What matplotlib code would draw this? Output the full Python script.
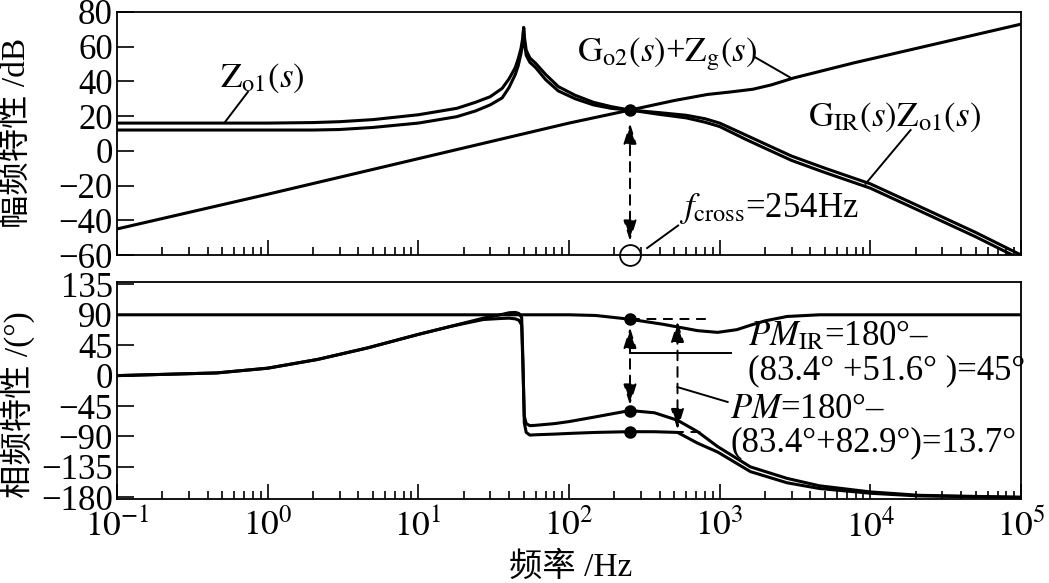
import matplotlib
matplotlib.use('Agg')
import matplotlib.pyplot as plt
from matplotlib.ticker import LogLocator, NullFormatter, FixedLocator, FixedFormatter

plt.rcParams['font.family'] = ['Liberation Serif', 'Noto Sans CJK SC']
plt.rcParams['mathtext.fontset'] = 'stix'
plt.rcParams['axes.unicode_minus'] = True

# ---------------- data ----------------
# magnitude: Zo1 and GIR*Zo1
f_mag = [0.1, 1, 2, 3, 5, 10, 18, 24, 30, 36, 40, 44, 46, 48, 49.3, 50, 50.7, 52, 55,
         60, 70, 85, 110, 145, 190, 254, 400, 600, 800, 1000, 1500, 2000, 3000, 5000,
         1e4, 2e4, 5e4, 1e5]
mag_zo1 = [16, 16, 16.3, 16.8, 18, 20.8, 24.5, 28, 31.2, 36, 41.5, 48, 53, 59, 65, 71, 65, 58, 53.5,
           50.5, 44, 37, 32, 28, 25.5, 23.5, 22, 20.5, 18.5, 16, 9, 4, -3, -10,
           -19, -31, -47, -60]
mag_gir_zo1 = [12, 12, 12, 12.3, 13.5, 16, 19.7, 23, 26.5, 30.5, 36.5, 44, 49, 56, 62, 71, 62, 55, 51,
               48, 41, 34.5, 30, 26.5, 24.5, 23.5, 21, 19, 16.5, 14, 6.5, 1.5, -5.5, -12.5,
               -21.5, -33.5, -49.5, -62.5]
# magnitude: Go2 + Zg
f_go2 = [0.1, 1, 10, 100, 254, 500, 830, 1200, 1660, 2200, 3100, 7700, 1e5]
mag_go2 = [-45, -25, -4.5, 16, 23.5, 29, 32.5, 34, 35.5, 38, 42, 50.6, 73]

# phase
f_ph = [0.1, 0.46, 1, 2.15, 4.6, 10, 16.5, 27, 35, 40, 44, 46.5, 48.5, 49.5, 50.5, 52, 55,
        60, 80, 100, 150, 254, 370, 525, 715, 970, 1600, 2800, 4600, 1e4, 2.1e4, 1e5]
ph_zo1 = [0, 4, 11, 24, 41, 61, 73, 85, 90, 93, 93.5, 92, 86, 20, -70, -84, -88,
          -87.5, -86.5, -85.5, -84, -82.9, -83, -84, -100, -113, -142, -158.5, -167, -174, -178, -180]
ph_gir_zo1 = [0, 4, 11, 24, 41, 61, 73, 83, 84.5, 85, 84, 82, 75, 10, -60, -71, -74,
              -73.5, -71, -68, -61, -51.6, -55, -66, -83, -105, -135, -152, -163, -172, -177, -180]
f_ph_go2 = [0.1, 100, 150, 254, 420, 715, 970, 1300, 1600, 2000, 2800, 4600, 1e5]
ph_go2 = [90, 90, 89, 83.4, 76, 66.5, 64, 68, 74.5, 81, 87.5, 90, 90]

# crossover / phase-margin annotation values
f_cross = 254
mag_cross = 23.5
ph_go2_cross = 83.4
ph_gir_cross = -51.6
ph_zo1_cross = -82.9
f_pm_arrow = 525

decades = [0.1, 1, 10, 100, 1e3, 1e4, 1e5]
decade_labels = [r'$10^{-1}$', r'$10^{0}$', r'$10^{1}$', r'$10^{2}$', r'$10^{3}$', r'$10^{4}$', r'$10^{5}$']
mag_ticks = [-60, -40, -20, 0, 20, 40, 60, 80]
ph_ticks = [-180, -135, -90, -45, 0, 45, 90, 135]

# ---------------- figure ----------------
W, H = 1049, 583
fig = plt.figure(figsize=(W / 100, H / 100), dpi=100)
L, R = 117, 1021
ax1 = fig.add_axes([L / W, 1 - 255 / H, (R - L) / W, (255 - 12) / H])
ax2 = fig.add_axes([L / W, 1 - 499 / H, (R - L) / W, (499 - 282) / H])

lw = 2.2
ax1.plot(f_mag, mag_zo1, color='k', lw=lw)
ax1.plot(f_mag, mag_gir_zo1, color='k', lw=lw)
ax1.plot(f_go2, mag_go2, color='k', lw=lw)
ax2.plot(f_ph, ph_zo1, color='k', lw=lw)
ax2.plot(f_ph, ph_gir_zo1, color='k', lw=lw)
ax2.plot(f_ph_go2, ph_go2, color='k', lw=lw)

for ax in (ax1, ax2):
    ax.set_xscale('log')
    ax.set_xlim(0.1, 1e5)
    ax.xaxis.set_major_locator(FixedLocator(decades))
    ax.xaxis.set_minor_locator(LogLocator(base=10, subs=range(2, 10), numticks=20))
    ax.xaxis.set_minor_formatter(NullFormatter())
    ax.tick_params(axis='x', which='major', direction='in', length=10.5, width=1.2,
                   top=False, labelsize=25.5, pad=7)
    ax.tick_params(axis='x', which='minor', direction='in', length=5.8, width=1.2, top=False)
    ax.tick_params(axis='y', which='major', direction='in', length=12, width=1.2,
                   right=False, labelsize=25, pad=3)
    for s in ax.spines.values():
        s.set_linewidth(1.3)

ax1.set_ylim(-60, 80)
ax1.set_yticks(mag_ticks)
ax1.set_xticklabels([])
ax2.set_ylim(-182.5, 138.5)
ax2.set_yticks(ph_ticks)
ax2.xaxis.set_major_formatter(FixedFormatter(decade_labels))

# axis labels
fig.text(17 / W, 1 - 133 / H, '幅频特性 /dB', rotation=90, ha='center', va='center', fontsize=24)
fig.text(17 / W, 1 - 405 / H, '相频特性 /(°)', rotation=90, ha='center', va='center', fontsize=24)
fig.text(571 / W, 1 - 567 / H, '频率 /Hz', ha='center', va='center', fontsize=24)

fs = 25
dash = (0, (5, 3.5))
ann_lw = 1.4
astyle = '<|-|>,head_length=0.7,head_width=0.22'

# ---- top panel annotations ----
ax1.plot([f_cross], [mag_cross], 'o', color='k', ms=8)
ax1.annotate('', xy=(f_cross, 16), xytext=(f_cross, -52),
             arrowprops=dict(arrowstyle=astyle, linestyle=dash,
                             lw=ann_lw, color='k', mutation_scale=18, shrinkA=0, shrinkB=0))
ax1.plot([f_cross], [-60], 'o', ms=15, mfc='none', mec='k', mew=1.3, clip_on=False)

ax1.text(0.485, 42, r'$\mathrm{Z}_{\mathrm{o1}}(s)$', fontsize=fs, ha='left', va='center')
ax1.plot([0.52, 0.74], [16.5, 34], color='k', lw=ann_lw)

ax1.text(113, 55.5, r'$\mathrm{G}_{\mathrm{o2}}(s)$+$\mathrm{Z}_{\mathrm{g}}(s)$', fontsize=fs,
         ha='left', va='center')
ax1.plot([1712, 2976], [54, 42], color='k', lw=ann_lw)

ax1.text(3860, 19.5, r'$\mathrm{G}_{\mathrm{IR}}(s)\mathrm{Z}_{\mathrm{o1}}(s)$', fontsize=fs,
         ha='left', va='center')
ax1.plot([1.85e4, 9300], [12, -19], color='k', lw=ann_lw)

ax1.text(541, -33, r'$f_{\mathrm{cross}}$=254Hz', fontsize=fs, ha='left', va='center')
ax1.plot([530, 330], [-43, -56], color='k', lw=ann_lw)

# ---- bottom panel annotations ----
ax2.plot([f_cross] * 3, [ph_go2_cross, ph_gir_cross, ph_zo1_cross], 'o', color='k', ms=8)
ax2.plot([f_cross, 830], [ph_go2_cross, ph_go2_cross], color='k', lw=ann_lw, ls=dash)
ax2.plot([500, 790], [ph_zo1_cross, ph_zo1_cross], color='k', lw=ann_lw, ls=dash)
ax2.annotate('', xy=(f_cross, ph_go2_cross - 12), xytext=(f_cross, ph_gir_cross + 8),
             arrowprops=dict(arrowstyle=astyle, linestyle=dash,
                             lw=ann_lw, color='k', mutation_scale=18, shrinkA=0, shrinkB=0))
ax2.annotate('', xy=(f_pm_arrow, ph_go2_cross - 3), xytext=(f_pm_arrow, ph_zo1_cross + 3),
             arrowprops=dict(arrowstyle=astyle, linestyle=dash,
                             lw=ann_lw, color='k', mutation_scale=18, shrinkA=0, shrinkB=0))
ax2.plot([1184, f_cross], [33, 33], color='k', lw=ann_lw)
ax2.plot([1130, f_pm_arrow], [-39, -17], color='k', lw=ann_lw)

ax2.text(1537, 58, r'$PM_{\mathrm{IR}}$=180°–', fontsize=fs, ha='left', va='center')
ax2.text(1537, 7, '(83.4° +51.6° )=45°', fontsize=fs, ha='left', va='center')
ax2.text(1180, -50, r'$PM$=180°–', fontsize=fs, ha='left', va='center')
ax2.text(1180, -99, '(83.4°+82.9°)=13.7°', fontsize=fs, ha='left', va='center', clip_on=False)

fig.savefig('out.png', dpi=100)
